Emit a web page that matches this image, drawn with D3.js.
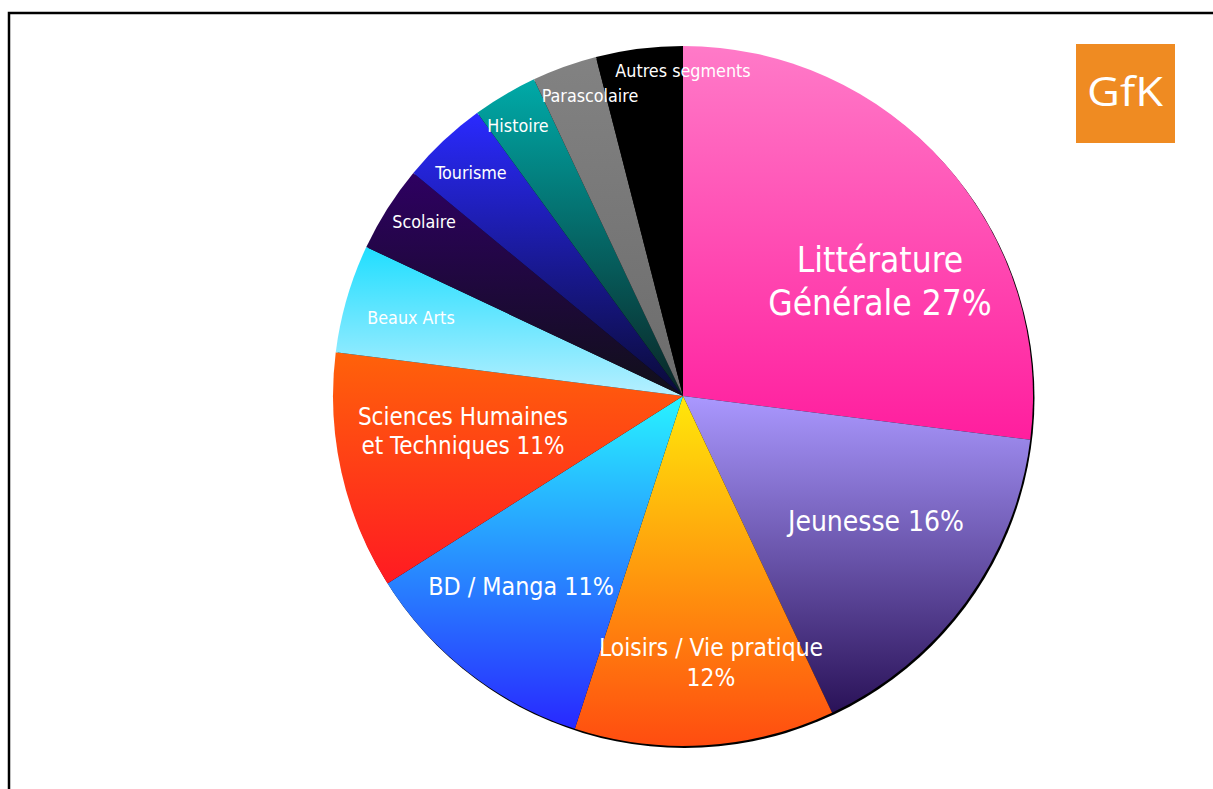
<!DOCTYPE html>
<html><head><meta charset="utf-8">
<script src="https://cdn.jsdelivr.net/npm/d3@7"></script>
<style>html,body{margin:0;padding:0;background:#fff;overflow:hidden}</style>
</head><body>
<svg id="chart" width="1213" height="789"></svg>
<script>
// ---- data ----
const categories = ["Littérature Générale","Jeunesse","Loisirs / Vie pratique","BD / Manga","Sciences Humaines et Techniques","Beaux Arts","Scolaire","Tourisme","Histoire","Parascolaire","Autres segments"];
const shares = [27,16,12,11,11,5,4,4,3,3,4];
const labelLines = [
  ["Littérature","Générale 27%"],
  ["Jeunesse 16%"],
  ["Loisirs / Vie pratique","12%"],
  ["BD / Manga 11%"],
  ["Sciences Humaines","et Techniques 11%"],
  ["Beaux Arts"],["Scolaire"],["Tourisme"],["Histoire"],["Parascolaire"],["Autres segments"]
];
const gradTop    = ["#ff7ac8","#aa98ff","#ffe80a","#28f4ff","#ff620a","#20deff","#2e0062","#2a2aff","#00aaa8","#828282","#000000"];
const gradBottom = ["#ff1e9e","#2a1258","#ff4c10","#2828ff","#ff1a22","#b6efff","#101018","#0a0a36","#0a2424","#6c6c6c","#000000"];

// ---- layout ----
const svg = d3.select("#chart");
const cx = 683, cy = 396, R = 350;
const font = "'DejaVu Sans Condensed','DejaVu Sans',sans-serif";
// label placement relative to centre (text layout only)
const labelLayout = [
  {dx:197, dy:-115.5, size:35, lh:43},
  {dx:193, dy:125, size:28, lh:30},
  {dx:28, dy:266, size:24.4, lh:30},
  {dx:-162, dy:190, size:24.8, lh:29},
  {dx:-220, dy:35, size:24, lh:29.5},
  {dx:-272, dy:-78, size:17.8, lh:20},
  {dx:-259, dy:-174, size:17.8, lh:20},
  {dx:-212, dy:-223, size:17.8, lh:20},
  {dx:-165, dy:-270, size:17.8, lh:20},
  {dx:-93, dy:-300, size:17.8, lh:20},
  {dx:0, dy:-325, size:17.8, lh:20}
];

// frame
svg.append("path").attr("d","M9,789 V13 H1213").attr("fill","none").attr("stroke","#000").attr("stroke-width",2.5);

const defs = svg.append("defs");
categories.forEach((c,i)=>{
  const g = defs.append("linearGradient").attr("id","g"+i).attr("x1",0).attr("y1",0).attr("x2",0).attr("y2",1);
  g.append("stop").attr("offset","0%").attr("stop-color",gradTop[i]);
  g.append("stop").attr("offset","100%").attr("stop-color",gradBottom[i]);
});

const pie = d3.pie().sort(null).value(d=>d);
const arcs = pie(shares);
const arc = d3.arc().innerRadius(0).outerRadius(R);

const G = svg.append("g").attr("transform",`translate(${cx},${cy})`);
// subtle shadow edge
G.append("circle").attr("cx",1.5).attr("cy",2).attr("r",R).attr("fill","#000");
G.selectAll("path.slice").data(arcs).join("path").attr("class","slice")
  .attr("d",arc).attr("fill",(d,i)=>`url(#g${i})`);

// labels
const lab = G.selectAll("text.lab").data(arcs).join("text").attr("class","lab")
  .attr("font-family",font).attr("fill","#fff").attr("text-anchor","middle")
  .attr("font-size",(d,i)=>labelLayout[i].size)
  .attr("transform",(d,i)=>`translate(${labelLayout[i].dx},${labelLayout[i].dy})`);
lab.each(function(d,i){
  const t = d3.select(this);
  const L = labelLines[i], lay = labelLayout[i];
  L.forEach((s,k)=>{
    t.append("tspan").attr("x",0).attr("y",(k-(L.length-1)/2)*lay.lh + lay.size*0.36).text(s);
  });
});

// GfK logo
svg.append("rect").attr("x",1076).attr("y",44).attr("width",99).attr("height",99).attr("fill","#ef8b22");
svg.append("text").attr("x",1125).attr("y",106).attr("text-anchor","middle")
  .attr("font-family","'Open Sans',sans-serif").attr("font-size",41).attr("fill","#fff")
  .attr("textLength",76).attr("lengthAdjust","spacingAndGlyphs").text("GfK");
</script>
</body></html>
